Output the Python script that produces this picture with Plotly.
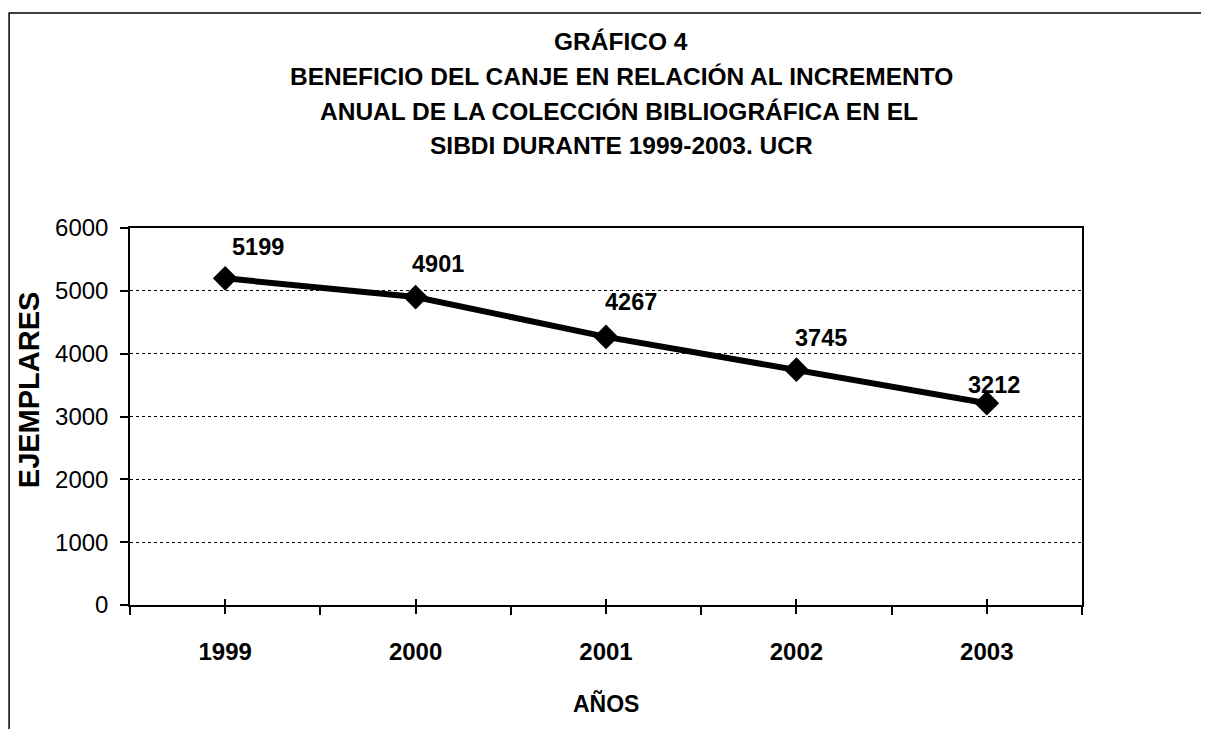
import plotly.graph_objects as go

years = ["1999", "2000", "2001", "2002", "2003"]
ejemplares = [5199, 4901, 4267, 3745, 3212]
label_dx = [33, 22, 25, 25, 7]
label_dy = [31, 33, 35, 32, 18]

title_lines = [
    "GRÁFICO 4",
    "BENEFICIO DEL CANJE EN RELACIÓN AL INCREMENTO",
    "ANUAL DE LA COLECCIÓN BIBLIOGRÁFICA EN EL",
    "SIBDI DURANTE 1999-2003. UCR",
]
title_x = [0.516, 0.516, 0.514, 0.516]
title_y = [1.496, 1.403, 1.310, 1.218]

FONT = "Liberation Sans, Arial, sans-serif"

fig = go.Figure()
fig.add_trace(go.Scatter(
    x=years, y=ejemplares, mode="lines+markers",
    line=dict(color="black", width=6),
    marker=dict(symbol="diamond", size=19, color="black"),
    showlegend=False, hoverinfo="x+y",
))
# invisible traces to drive overlay axes (category ticks)
fig.add_trace(go.Scatter(x=years, y=ejemplares, xaxis="x2", mode="none", showlegend=False, hoverinfo="skip"))
fig.add_trace(go.Scatter(x=years, y=ejemplares, xaxis="x3", mode="none", showlegend=False, hoverinfo="skip"))

for i, (v, dx, dy) in enumerate(zip(ejemplares, label_dx, label_dy)):
    fig.add_annotation(
        x=i, y=v, xref="x", yref="y", text=str(v), showarrow=False,
        xshift=dx, yshift=dy,
        font=dict(family=FONT, size=23.5, color="black", weight="bold"),
    )

for txt, tx, ty in zip(title_lines, title_x, title_y):
    fig.add_annotation(
        x=tx, y=ty, xref="paper", yref="paper", text=txt, showarrow=False,
        xanchor="center", yanchor="middle",
        font=dict(family=FONT, size=24.5, color="black", weight="bold"),
    )

fig.add_annotation(
    x=-0.106, y=0.570, xref="paper", yref="paper", text="EJEMPLARES",
    showarrow=False, textangle=-90, xanchor="center", yanchor="middle",
    font=dict(family=FONT, size=29, color="black", weight="bold"),
)
fig.add_annotation(
    x=0.5, y=-0.26, xref="paper", yref="paper", text="AÑOS",
    showarrow=False, xanchor="center", yanchor="middle",
    font=dict(family=FONT, size=23, color="black", weight="bold"),
)

fig.update_layout(
    width=1209, height=729,
    margin=dict(l=122, r=135, t=220, b=132),
    paper_bgcolor="white", plot_bgcolor="white",
    xaxis=dict(
        type="category", range=[-0.5, 4.5],
        tickson="boundaries", ticks="outside", ticklen=8, tickcolor="black", tickwidth=1.5,
        showgrid=False, showline=True, linecolor="black", linewidth=1.5, mirror=True,
        tickfont=dict(family=FONT, size=24, color="black", weight="bold"),
        ticklabelstandoff=24,
        zeroline=False,
    ),
    xaxis2=dict(
        type="category", range=[-0.5, 4.5], overlaying="x", anchor="y",
        ticks="outside", ticklen=8, tickcolor="black", tickwidth=1.5,
        showticklabels=False, showgrid=False, showline=False,
    ),
    xaxis3=dict(
        type="category", range=[-0.5, 4.5], overlaying="x", anchor="y",
        ticks="inside", ticklen=6, tickcolor="black", tickwidth=1.5,
        showticklabels=False, showgrid=False, showline=False,
    ),
    yaxis=dict(
        range=[0, 6000], dtick=1000, tick0=0,
        ticks="outside", ticklen=8, tickcolor="black", tickwidth=1.5,
        showgrid=True, gridcolor="black", gridwidth=1, griddash="dot",
        showline=True, linecolor="black", linewidth=1.5, mirror=True,
        zeroline=False,
        tickfont=dict(family=FONT, size=24, color="black"),
        ticklabelstandoff=7,
    ),
    shapes=[dict(
        type="rect", xref="paper", yref="paper",
        x0=-0.127, x1=1.3, y0=-0.6, y1=1.570,
        line=dict(color="black", width=1.5), fillcolor="rgba(0,0,0,0)", layer="below",
    )],
)

fig.write_html("out.html")
